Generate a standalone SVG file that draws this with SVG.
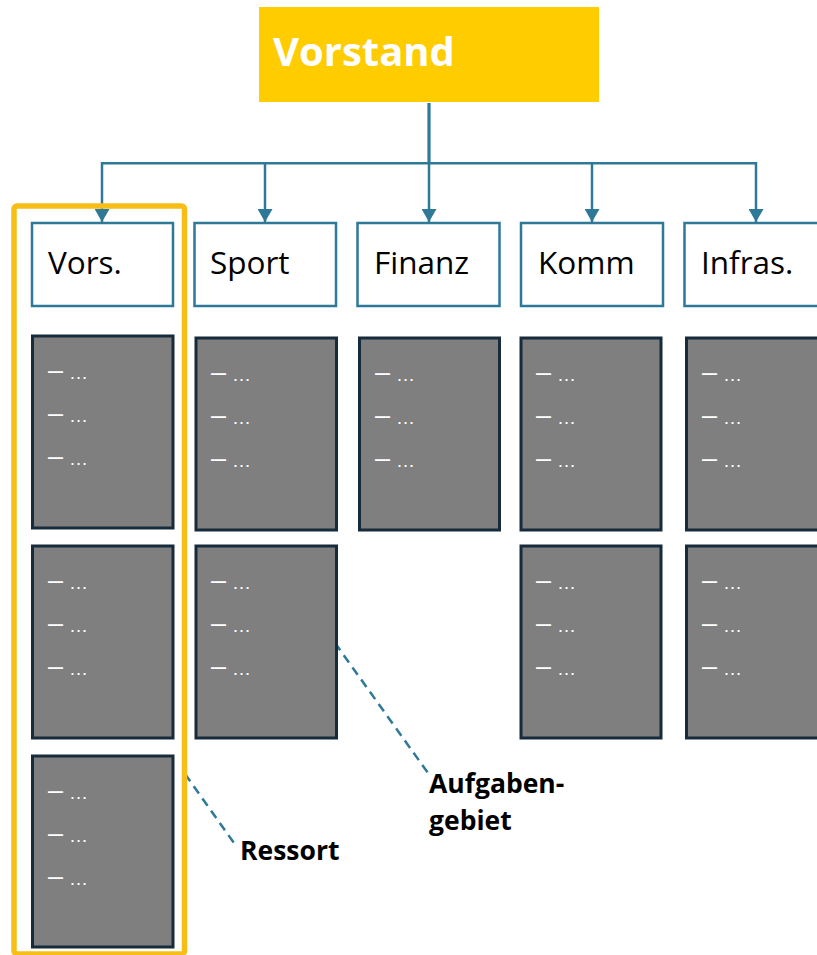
<svg xmlns="http://www.w3.org/2000/svg" width="817" height="955" viewBox="0 0 817 955">
<defs>
<style>
.hdr{fill:#fff;stroke:#2E7898;stroke-width:2.5}
.hdrt{font-family:"Open Sans",sans-serif;font-size:31.5px;fill:#000}
.task{fill:#7F7F7F;stroke:#172B3A;stroke-width:3}
.it{font-family:"Liberation Sans",sans-serif;fill:#fff}
.d{font-size:27px}
.e{font-size:19px}
.conn{fill:none;stroke:#2E7898;stroke-width:2.5}
.lead{fill:none;stroke:#2E7898;stroke-width:2.5;stroke-dasharray:9 6}
.lbl{font-family:"Open Sans",sans-serif;font-size:26.5px;font-weight:bold;fill:#000}
</style>
<marker id="ah" viewBox="0 0 15 13" refX="7.5" refY="13" markerWidth="15" markerHeight="13" markerUnits="userSpaceOnUse" orient="0">
<path d="M0,0 L15,0 L7.5,13 Z" fill="#2E7898"/>
</marker>
</defs>
<rect width="817" height="955" fill="#fff"/>

<g id="connectors">
<line x1="429" y1="103" x2="429" y2="163" stroke="#2E7898" stroke-width="3.2"/>
<line x1="102" y1="163.3" x2="756" y2="163.3" class="conn"/>
<line x1="102" y1="162" x2="102" y2="222" class="conn" marker-end="url(#ah)"/>
<line x1="265" y1="162" x2="265" y2="222" class="conn" marker-end="url(#ah)"/>
<line x1="429" y1="162" x2="429" y2="222" class="conn" marker-end="url(#ah)"/>
<line x1="592" y1="162" x2="592" y2="222" class="conn" marker-end="url(#ah)"/>
<line x1="756" y1="162" x2="756" y2="222" class="conn" marker-end="url(#ah)"/>
<line x1="335" y1="643" x2="428" y2="773" class="lead"/>
<line x1="185" y1="774" x2="234" y2="843" class="lead"/>
</g>

<g id="vorstand">
<rect x="259" y="7" width="340" height="95" fill="#FFCC00"/>
<text x="273" y="66" font-family="Open Sans, sans-serif" font-size="40" font-weight="bold" fill="#fff">Vorstand</text>
</g>

<g id="h-vors"><rect x="32" y="223" width="141" height="83" class="hdr"/><text x="48" y="274" class="hdrt">Vors.</text></g>
<g id="h-sport"><rect x="194.5" y="223" width="141.5" height="83" class="hdr"/><text x="210" y="274" class="hdrt">Sport</text></g>
<g id="h-finanz"><rect x="357.5" y="223" width="142" height="83" class="hdr"/><text x="374" y="274" class="hdrt">Finanz</text></g>
<g id="h-komm"><rect x="521" y="223" width="142" height="83" class="hdr"/><text x="538" y="274" class="hdrt">Komm</text></g>
<g id="h-infras"><rect x="684.5" y="223" width="142" height="83" class="hdr"/><text x="701" y="274" class="hdrt">Infras.</text></g>

<g id="t-vors-1"><rect x="32.5" y="336" width="140.5" height="192" class="task"/>
<text class="it" y="378.5"><tspan x="48" class="d">–</tspan><tspan x="69" class="e">…</tspan></text>
<text class="it" y="421.5"><tspan x="48" class="d">–</tspan><tspan x="69" class="e">…</tspan></text>
<text class="it" y="464.5"><tspan x="48" class="d">–</tspan><tspan x="69" class="e">…</tspan></text></g>
<g id="t-vors-2"><rect x="32.5" y="546" width="140.5" height="192" class="task"/>
<text class="it" y="588.5"><tspan x="48" class="d">–</tspan><tspan x="69" class="e">…</tspan></text>
<text class="it" y="631.5"><tspan x="48" class="d">–</tspan><tspan x="69" class="e">…</tspan></text>
<text class="it" y="674.5"><tspan x="48" class="d">–</tspan><tspan x="69" class="e">…</tspan></text></g>
<g id="t-vors-3"><rect x="32.5" y="756" width="140.5" height="191" class="task"/>
<text class="it" y="798.5"><tspan x="48" class="d">–</tspan><tspan x="69" class="e">…</tspan></text>
<text class="it" y="841.5"><tspan x="48" class="d">–</tspan><tspan x="69" class="e">…</tspan></text>
<text class="it" y="884.5"><tspan x="48" class="d">–</tspan><tspan x="69" class="e">…</tspan></text></g>

<g id="t-sport-1"><rect x="196" y="338" width="140.5" height="192" class="task"/>
<text class="it" y="380.5"><tspan x="211" class="d">–</tspan><tspan x="232" class="e">…</tspan></text>
<text class="it" y="423.5"><tspan x="211" class="d">–</tspan><tspan x="232" class="e">…</tspan></text>
<text class="it" y="467"><tspan x="211" class="d">–</tspan><tspan x="232" class="e">…</tspan></text></g>
<g id="t-sport-2"><rect x="196" y="546" width="140.5" height="192" class="task"/>
<text class="it" y="588.5"><tspan x="211" class="d">–</tspan><tspan x="232" class="e">…</tspan></text>
<text class="it" y="631.5"><tspan x="211" class="d">–</tspan><tspan x="232" class="e">…</tspan></text>
<text class="it" y="674.5"><tspan x="211" class="d">–</tspan><tspan x="232" class="e">…</tspan></text></g>

<g id="t-finanz-1"><rect x="359.5" y="338" width="140" height="192" class="task"/>
<text class="it" y="380.5"><tspan x="375" class="d">–</tspan><tspan x="396" class="e">…</tspan></text>
<text class="it" y="423.5"><tspan x="375" class="d">–</tspan><tspan x="396" class="e">…</tspan></text>
<text class="it" y="467"><tspan x="375" class="d">–</tspan><tspan x="396" class="e">…</tspan></text></g>

<g id="t-komm-1"><rect x="521" y="338" width="140" height="192" class="task"/>
<text class="it" y="380.5"><tspan x="536" class="d">–</tspan><tspan x="557" class="e">…</tspan></text>
<text class="it" y="423.5"><tspan x="536" class="d">–</tspan><tspan x="557" class="e">…</tspan></text>
<text class="it" y="467"><tspan x="536" class="d">–</tspan><tspan x="557" class="e">…</tspan></text></g>
<g id="t-komm-2"><rect x="521" y="546" width="140" height="192" class="task"/>
<text class="it" y="588.5"><tspan x="536" class="d">–</tspan><tspan x="557" class="e">…</tspan></text>
<text class="it" y="631.5"><tspan x="536" class="d">–</tspan><tspan x="557" class="e">…</tspan></text>
<text class="it" y="674.5"><tspan x="536" class="d">–</tspan><tspan x="557" class="e">…</tspan></text></g>

<g id="t-infras-1"><rect x="686.5" y="338" width="140" height="192" class="task"/>
<text class="it" y="380.5"><tspan x="702" class="d">–</tspan><tspan x="723" class="e">…</tspan></text>
<text class="it" y="423.5"><tspan x="702" class="d">–</tspan><tspan x="723" class="e">…</tspan></text>
<text class="it" y="467"><tspan x="702" class="d">–</tspan><tspan x="723" class="e">…</tspan></text></g>
<g id="t-infras-2"><rect x="686.5" y="546" width="140" height="192" class="task"/>
<text class="it" y="588.5"><tspan x="702" class="d">–</tspan><tspan x="723" class="e">…</tspan></text>
<text class="it" y="631.5"><tspan x="702" class="d">–</tspan><tspan x="723" class="e">…</tspan></text>
<text class="it" y="674.5"><tspan x="702" class="d">–</tspan><tspan x="723" class="e">…</tspan></text></g>

<g id="ressort-frame">
<rect x="14" y="206" width="170.5" height="748" rx="3" fill="none" stroke="#F6BE17" stroke-width="5.5"/>
</g>

<g id="label-aufgabengebiet">
<text x="429" y="793" class="lbl">Aufgaben-</text>
<text x="429" y="830" class="lbl">gebiet</text>
</g>
<g id="label-ressort">
<text x="240" y="860" class="lbl">Ressort</text>
</g>
</svg>
